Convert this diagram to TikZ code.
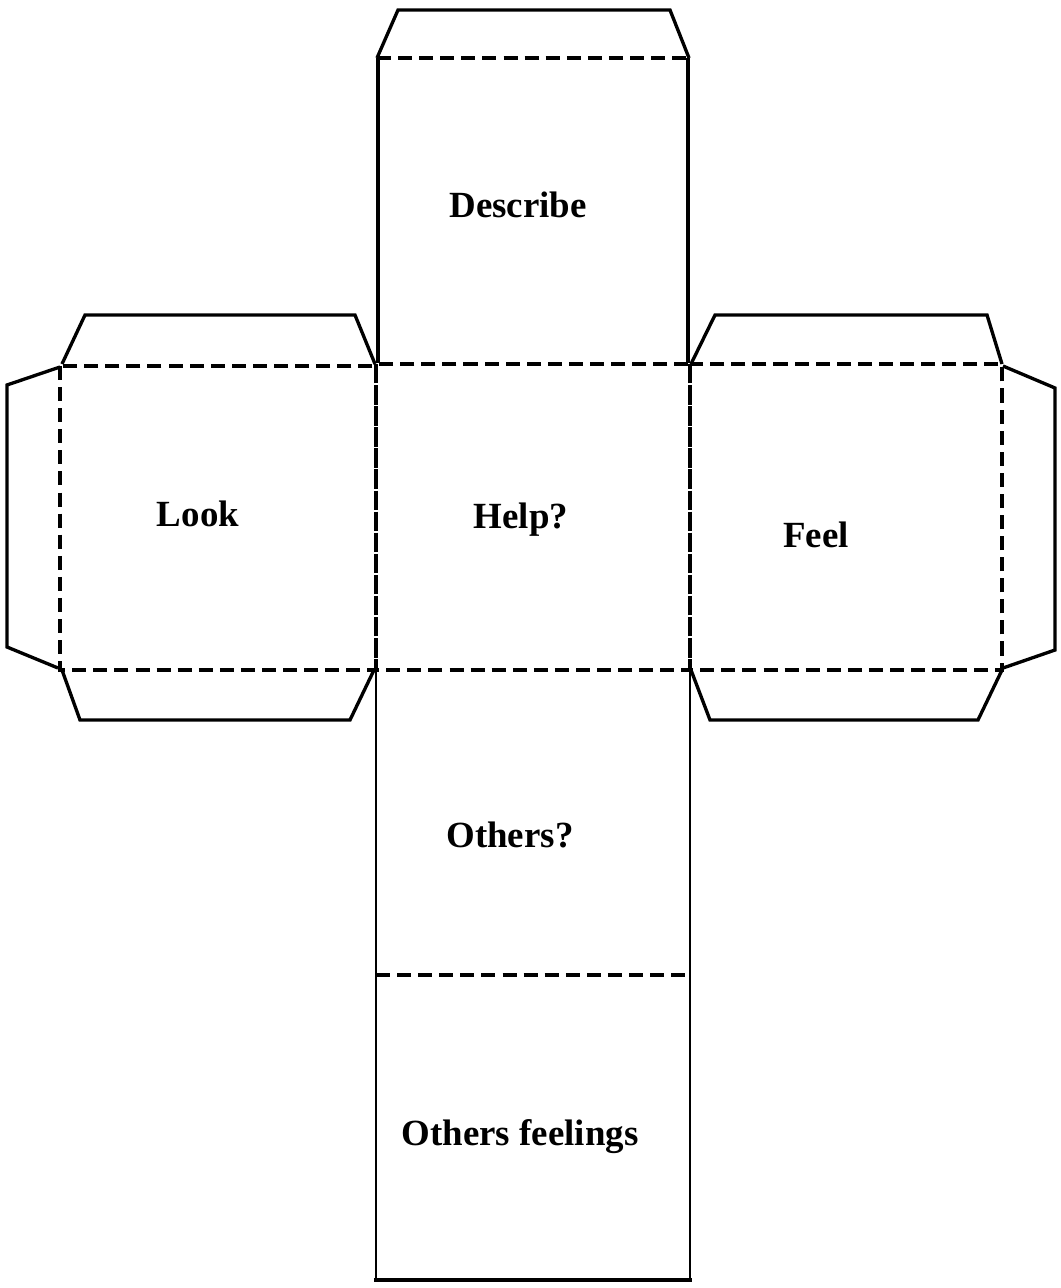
\documentclass[tikz,border=0pt]{standalone}
\usepackage{fontspec}
\setmainfont{Liberation Serif}
\usepackage{tikz}

\tikzset{
  cutline/.style={line width=1.9pt, black, line join=miter},
  foldline/.style={line width=2.5pt, black, dash pattern=on 8pt off 4pt},
  facelabel/.style={font=\fontsize{21}{25}\selectfont\bfseries}
}

\begin{document}
\begin{tikzpicture}[x=0.02cm,y=-0.02cm]
  \useasboundingbox (0,0) rectangle (1061,1288);

  %% Top flap and the top face
  \draw[cutline] (377,58) -- (398,10) -- (670,10) -- (689,58);
  \draw[cutline, line width=2.5pt] (378,363) -- (378,58);
  \draw[cutline, line width=2.5pt] (688,58) -- (688,363);
  \draw[foldline] (377,58) -- (689,58);

  %% Left face with its three flaps
  \draw[cutline] (62,364) -- (85,315) -- (355,315) -- (375,364);
  \draw[cutline] (62,670) -- (80,720) -- (350,720) -- (374,670);
  \draw[cutline] (60,367) -- (7,385) -- (7,647) -- (58,668);
  \draw[foldline] (60,366) rectangle (376,670);

  %% Right face with its three flaps
  \draw[cutline] (691,364) -- (715,315) -- (987,315) -- (1002,364);
  \draw[cutline] (691,670) -- (710,720) -- (978,720) -- (1002,670);
  \draw[cutline] (1003,366) -- (1055,388) -- (1055,650) -- (1003,668);
  \draw[foldline] (690,364) rectangle (1002,670);

  %% Centre face
  \draw[foldline] (376,364) rectangle (690,670);

  %% Lower two faces
  \draw[cutline, line width=1.5pt] (376,670) -- (376,1280) -- (690,1280) -- (690,670);
  \draw[cutline, line width=2.5pt] (374,1280) -- (692,1280);
  \draw[foldline] (376,975) -- (690,975);

  %% Labels on the faces
  \node[facelabel] (describe) at (518,205) {Describe};
  \node[facelabel] (look) at (198,514) {Look};
  \node[facelabel] (help) at (521,520) {Help?};
  \node[facelabel] (feel) at (816,535) {Feel};
  \node[facelabel] (others) at (510,835) {Others?};
  \node[facelabel] (feelings) at (520,1137) {Others feelings};
\end{tikzpicture}
\end{document}
